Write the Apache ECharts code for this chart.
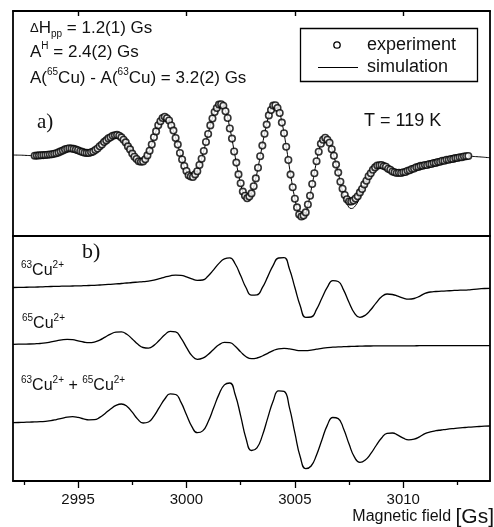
<!DOCTYPE html>
<html><head><meta charset="utf-8">
<script src="https://cdn.jsdelivr.net/npm/echarts@6/dist/echarts.min.js"></script>
<style>html,body{margin:0;padding:0;background:#fff}#c{width:494px;height:527px}</style>
</head><body><div id="c"></div><script>
// ---------- data ----------
const fieldMin = 2992, fieldMax = 3014;
const majorTicks = [2995, 3000, 3005, 3010];
const minorTicks = [2992.5, 2997.5, 3002.5, 3007.5, 3012.5];

// panel a) experiment (circles), field from 2993.0 step 0.1 Gs, a.u.
const expStart = 2993.0, expStep = 0.1;
const experiment = [
  0.03,0.04,0.06,0.07,0.09,0.10,0.12,0.15,0.17,0.22,
  0.27,0.36,0.46,0.55,0.66,0.72,0.78,0.75,0.71,0.64,
  0.57,0.47,0.41,0.33,0.31,0.30,0.37,0.44,0.60,0.75,
  0.97,1.15,1.40,1.56,1.76,1.88,2.03,2.07,2.11,2.02,
  1.86,1.62,1.36,0.96,0.66,0.24,-0.08,-0.30,-0.52,-0.57,
  -0.54,-0.33,0.06,0.52,1.15,1.88,2.46,3.08,3.48,3.80,
  3.92,3.78,3.55,3.05,2.54,1.80,1.14,0.30,-0.35,-1.00,
  -1.50,-1.92,-2.05,-2.10,-1.84,-1.52,-0.90,-0.28,0.50,1.40,
  2.20,3.06,3.75,4.40,4.80,5.14,5.18,5.03,4.48,3.80,
  2.75,1.74,0.45,-0.66,-1.84,-2.72,-3.56,-3.98,-4.22,-4.06,
  -3.74,-3.02,-2.24,-1.17,-0.02,1.04,2.23,3.14,4.06,4.60,
  5.04,5.08,4.80,4.30,3.34,2.28,0.92,-0.40,-1.86,-3.12,
  -4.28,-5.14,-5.85,-6.05,-5.96,-5.64,-4.85,-3.98,-2.80,-1.72,
  -0.52,0.42,1.22,1.62,1.82,1.62,1.32,0.68,0.02,-0.86,
  -1.66,-2.58,-3.28,-3.90,-4.32,-4.55,-4.55,-4.45,-4.25,-4.02,
  -3.64,-3.30,-2.84,-2.48,-2.02,-1.72,-1.38,-1.14,-0.95,-0.92,
  -0.90,-1.01,-1.08,-1.27,-1.38,-1.55,-1.62,-1.70,-1.68,-1.70,
  -1.62,-1.60,-1.48,-1.43,-1.30,-1.25,-1.12,-1.09,-0.99,-0.98,
  -0.90,-0.90,-0.81,-0.80,-0.70,-0.69,-0.60,-0.58,-0.48,-0.47,
  -0.38,-0.38,-0.30,-0.29,-0.21,-0.20,-0.13,-0.12,-0.05,-0.03,
  0.00
];
// panel a) simulation (line), field from 2992.0 step 0.2 Gs
const simStart = 2992.0, simStep = 0.2;
const simulation = [
  0.10,0.09,0.08,0.06,0.04,
  0.03,0.05,0.08,0.12,0.17,0.28,0.45,0.65,0.77,0.72,
  0.57,0.40,0.30,0.36,0.59,0.95,1.37,1.75,2.01,2.10,
  1.88,1.33,0.62,-0.06,-0.50,-0.56,0.03,1.19,2.50,3.52,
  3.90,3.53,2.51,1.09,-0.38,-1.53,-2.08,-1.87,-0.93,0.53,
  2.24,3.79,4.84,5.20,4.52,2.80,0.50,-1.80,-3.53,-4.20,
  -3.70,-2.20,-0.06,2.19,4.02,5.01,4.84,3.38,0.97,-1.82,
  -4.24,-5.81,-6.01,-4.90,-2.85,-0.56,1.18,1.80,1.29,-0.02,
  -1.70,-3.50,-4.75,-5.25,-4.95,-4.10,-3.10,-2.15,-1.45,-0.98,
  -0.92,-1.15,-1.50,-1.80,-1.90,-1.82,-1.62,-1.40,-1.18,-1.03,
  -0.92,-0.83,-0.72,-0.61,-0.50,-0.40,-0.32,-0.23,-0.15,-0.07,
  0.00,-0.04,-0.07,-0.10,-0.14,-0.17
];
// panel b) simulated components, field from 2992.0 step 0.25 Gs
const bStart = 2992.0, bStep = 0.25;
const cu63 = [
  0.00,0.01,0.02,0.03,0.04,0.06,0.08,0.10,
  0.11,0.13,0.14,0.15,0.16,0.18,0.20,0.22,
  0.25,0.28,0.32,0.36,0.40,0.45,0.50,0.54,
  0.58,0.64,0.74,0.88,1.04,1.17,1.24,1.22,
  1.07,0.86,0.72,0.75,1.16,1.76,2.41,2.87,
  2.96,2.35,1.19,-0.03,-0.77,-0.74,-0.02,1.09,
  2.22,2.95,2.98,1.85,0.00,-1.85,-2.98,-2.95,
  -2.19,-1.05,0.03,0.69,0.60,-0.26,-1.50,-2.56,
  -2.98,-2.77,-2.23,-1.53,-0.93,-0.65,-0.70,-0.87,
  -1.07,-1.17,-1.10,-0.88,-0.58,-0.45,-0.40,-0.37,
  -0.34,-0.31,-0.28,-0.26,-0.23,-0.18,-0.14,-0.10,
  -0.08
];
const cu65 = [
  0.00,0.01,0.02,0.03,0.05,0.08,0.14,0.24,
  0.35,0.45,0.50,0.46,0.35,0.23,0.16,0.22,
  0.42,0.72,1.02,1.22,1.25,1.00,0.54,0.03,
  -0.32,-0.38,-0.11,0.41,0.95,1.29,1.24,0.62,
  -0.30,-1.13,-1.50,-1.38,-1.01,-0.51,-0.05,0.20,
  0.17,-0.20,-0.76,-1.24,-1.44,-1.37,-1.17,-0.90,
  -0.63,-0.45,-0.40,-0.46,-0.56,-0.63,-0.63,-0.58,
  -0.49,-0.40,-0.33,-0.29,-0.26,-0.24,-0.22,-0.20,
  -0.19,-0.17,-0.17,-0.16,-0.16,-0.16,-0.15,-0.15,
  -0.15,-0.15,-0.15,-0.14,-0.14,-0.14,-0.14,-0.14,
  -0.14,-0.14,-0.14,-0.14,-0.14,-0.14,-0.14,-0.14,
  -0.14
];
const cuSum = [
  0.00,0.02,0.04,0.06,0.08,0.10,0.14,0.20,
  0.31,0.44,0.56,0.60,0.53,0.39,0.29,0.30,
  0.53,0.93,1.37,1.73,1.87,1.65,1.05,0.36,
  -0.03,0.07,0.66,1.53,2.37,2.88,2.82,2.03,
  0.80,-0.39,-1.00,-0.82,0.10,1.46,2.83,3.78,
  3.97,2.79,0.69,-1.60,-2.78,-2.52,-1.29,0.48,
  2.17,3.19,3.13,1.51,-1.02,-3.43,-4.59,-4.33,
  -3.22,-1.70,-0.24,0.52,0.41,-0.63,-2.14,-3.45,
  -3.96,-3.72,-3.10,-2.28,-1.53,-1.06,-1.03,-1.25,
  -1.55,-1.72,-1.65,-1.42,-1.10,-0.92,-0.80,-0.73,
  -0.66,-0.60,-0.55,-0.50,-0.45,-0.41,-0.38,-0.35,
  -0.33
];

// ---------- layout / style ----------
const FONT = "'Liberation Sans', Arial, Helvetica, sans-serif";
const SERIF = "'Liberation Serif', 'Times New Roman', serif";
const INK = '#111';
const FRAME = { show: true, onZero: false, lineStyle: { color: '#000', width: 1.8 } };
const traceOffsets = { cu63: 19.35, cu65: 13.67, sum: 5.83 };

function pairs(start, step, vals, offset) {
  return vals.map((v, i) => [Math.round((start + i * step) * 100) / 100, v + (offset || 0)]);
}

const G0 = { left: 13, top: 11, width: 477, height: 225 };
const G1 = { left: 13, top: 236, width: 477, height: 245 };

const richBase = {
  n: { fontSize: 17, fontFamily: FONT, lineHeight: 22, verticalAlign: 'middle' },
  m: { fontSize: 16, fontFamily: FONT, lineHeight: 22, verticalAlign: 'middle' },
  d: { fontSize: 13, fontFamily: FONT, lineHeight: 22, verticalAlign: 'middle' },
  sup: { fontSize: 10, fontFamily: FONT, lineHeight: 10, verticalAlign: 'top' },
  sub: { fontSize: 10, fontFamily: FONT, lineHeight: 10, verticalAlign: 'bottom' },
  b: { fontSize: 21, fontFamily: FONT, lineHeight: 24, verticalAlign: 'middle' }
};
function txt(x, y, text, align) {
  return { type: 'text', x: x, y: y, z: 10,
    style: { text: text, rich: richBase, fill: INK, align: align || 'left', verticalAlign: 'middle' } };
}
function plain(x, y, text, font, align) {
  return { type: 'text', x: x, y: y, z: 10,
    style: { text: text, font: font, fill: INK, align: align || 'left', verticalAlign: 'middle' } };
}
const noFmt = function (v) { return String(v); };

const chart = echarts.init(document.getElementById('c'), null, { renderer: 'canvas' });
chart.setOption({
  animation: false,
  backgroundColor: '#fff',
  grid: [
    Object.assign({ show: false }, G0),
    Object.assign({ show: false }, G1),
    Object.assign({ show: false }, G1)
  ],
  xAxis: [
    { gridIndex: 0, type: 'value', min: fieldMin, max: fieldMax, position: 'bottom',
      axisLine: FRAME, axisTick: { show: false }, axisLabel: { show: false }, splitLine: { show: false } },
    { gridIndex: 0, type: 'value', min: fieldMin, max: fieldMax, position: 'top',
      axisLine: FRAME, axisTick: { show: true, inside: true, length: 5, customValues: majorTicks, lineStyle: { color: '#000', width: 1.4 } },
      axisLabel: { show: false }, splitLine: { show: false } },
    { gridIndex: 1, type: 'value', min: fieldMin, max: fieldMax, position: 'bottom',
      axisLine: FRAME,
      axisTick: { show: true, inside: false, length: 7, customValues: majorTicks, lineStyle: { color: '#000', width: 1.3 } },
      axisLabel: { show: true, customValues: majorTicks, formatter: noFmt, fontSize: 15, fontFamily: FONT, color: INK, margin: 11 },
      splitLine: { show: false } },
    { gridIndex: 2, type: 'value', min: fieldMin, max: fieldMax, position: 'bottom',
      axisLine: { show: false, onZero: false },
      axisTick: { show: true, inside: false, length: 4, customValues: minorTicks, lineStyle: { color: '#000', width: 1.3 } },
      axisLabel: { show: false }, splitLine: { show: false } }
  ],
  yAxis: [
    { gridIndex: 0, type: 'value', min: -8, max: 14.5, position: 'left', axisLine: FRAME,
      axisTick: { show: false }, axisLabel: { show: false }, splitLine: { show: false } },
    { gridIndex: 0, type: 'value', min: -8, max: 14.5, position: 'right', axisLine: FRAME,
      axisTick: { show: false }, axisLabel: { show: false }, splitLine: { show: false } },
    { gridIndex: 1, type: 'value', min: 0, max: 24.5, position: 'left', axisLine: FRAME,
      axisTick: { show: false }, axisLabel: { show: false }, splitLine: { show: false } },
    { gridIndex: 1, type: 'value', min: 0, max: 24.5, position: 'right', axisLine: FRAME,
      axisTick: { show: false }, axisLabel: { show: false }, splitLine: { show: false } },
    { gridIndex: 2, type: 'value', min: 0, max: 24.5, show: false }
  ],
  series: [
    { name: 'simulation', type: 'line', xAxisIndex: 0, yAxisIndex: 0, z: 2,
      data: pairs(simStart, simStep, simulation), smooth: true, showSymbol: false, symbol: 'none',
      lineStyle: { color: '#000', width: 1 } },
    { name: 'experiment', type: 'scatter', xAxisIndex: 0, yAxisIndex: 0, z: 3,
      data: pairs(expStart, expStep, experiment), symbol: 'circle', symbolSize: 6.5,
      itemStyle: { color: '#fff', borderColor: '#000', borderWidth: 1.6 } },
    { name: '63Cu2+', type: 'line', xAxisIndex: 2, yAxisIndex: 2,
      data: pairs(bStart, bStep, cu63, traceOffsets.cu63), smooth: true, showSymbol: false, symbol: 'none',
      lineStyle: { color: '#000', width: 1.3 } },
    { name: '65Cu2+', type: 'line', xAxisIndex: 2, yAxisIndex: 2,
      data: pairs(bStart, bStep, cu65, traceOffsets.cu65), smooth: true, showSymbol: false, symbol: 'none',
      lineStyle: { color: '#000', width: 1.3 } },
    { name: '63Cu2+ + 65Cu2+', type: 'line', xAxisIndex: 2, yAxisIndex: 2,
      data: pairs(bStart, bStep, cuSum, traceOffsets.sum), smooth: true, showSymbol: false, symbol: 'none',
      lineStyle: { color: '#000', width: 1.3 } }
  ],
  graphic: [
    // parameter annotations
    txt(30, 28, '{d|Δ}{n|H}{sub|pp}{n| = 1.2(1) Gs}'),
    txt(30, 52, '{n|A}{sup|H}{n| = 2.4(2) Gs}'),
    txt(30, 78, '{n|A(}{sup|65}{n|Cu) - A(}{sup|63}{n|Cu) = 3.2(2) Gs}'),
    plain(37, 122, 'a)', '21px ' + SERIF),
    plain(364, 121, 'T = 119 K', '18px ' + FONT),
    // legend box
    { type: 'rect', z: 10, shape: { x: 300.5, y: 28.5, width: 177, height: 53 },
      style: { fill: '#fff', stroke: '#000', lineWidth: 1.3 } },
    { type: 'circle', z: 11, shape: { cx: 337, cy: 45, r: 3.2 },
      style: { fill: '#fff', stroke: '#000', lineWidth: 1.3 } },
    { type: 'line', z: 11, shape: { x1: 318, y1: 67.5, x2: 358, y2: 67.5 },
      style: { stroke: '#000', lineWidth: 1 } },
    plain(367, 45, 'experiment', '18px ' + FONT),
    plain(367, 67, 'simulation', '18px ' + FONT),
    // panel b labels
    plain(82, 252, 'b)', '22px ' + SERIF),
    txt(21, 271, '{sup|63}{m|Cu}{sup|2+}'),
    txt(22, 324, '{sup|65}{m|Cu}{sup|2+}'),
    txt(21, 386, '{sup|63}{m|Cu}{sup|2+}{m| + }{sup|65}{m|Cu}{sup|2+}'),
    // axis title
    txt(494, 517, '{m|Magnetic field }{b|[Gs]}', 'right')
  ]
});
</script></body></html>
